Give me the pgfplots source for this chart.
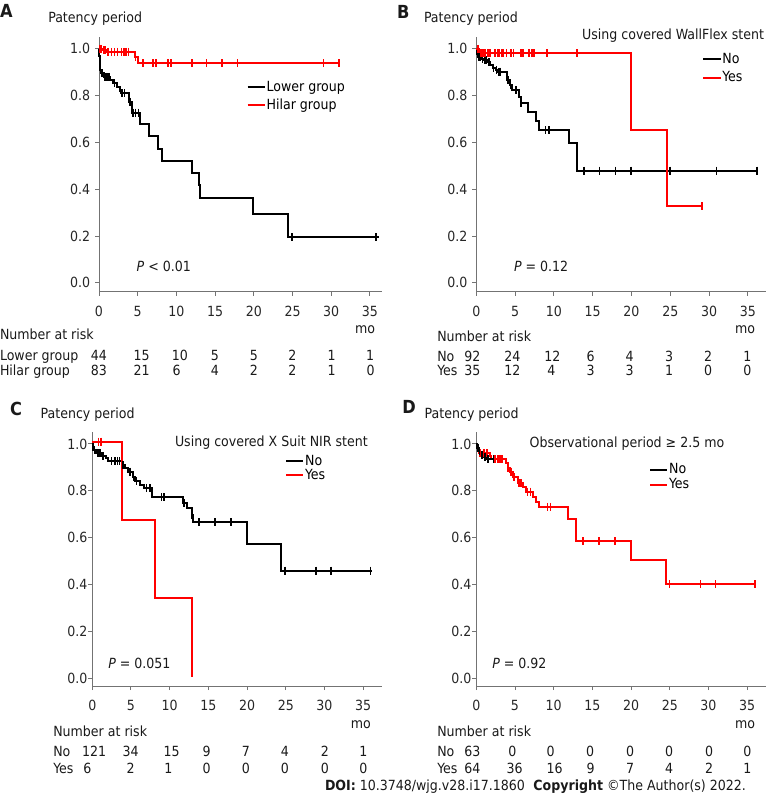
\documentclass[border=0pt]{standalone}
\usepackage{fontspec}
\setmainfont{DejaVu Sans Condensed}[BoldFont={DejaVu Sans Condensed Bold}, ItalicFont={DejaVu Sans Condensed Oblique}]
\usepackage{pgfplots}
\pgfplotsset{compat=1.18}
\newcommand\fs{\fontsize{10.5}{12}\selectfont}
\newcommand\lfs{\fontsize{13.5}{15}\selectfont\bfseries}
\pgfplotsset{
 km/.style={
   scale only axis, axis lines=left,
   axis line style={-, draw=black!55, line width=0.75pt},
   xmin=0, ymax=1.05,
   xtick={0,5,...,35}, ytick={0,0.2,0.4,0.6,0.8,1.0},
   tick align=outside, major tick length=3pt,
   tick style={draw=black!55, line width=0.75pt},
   /pgf/number format/assume math mode=true,
   tick label style={font=\fs, text=black!85},
   xticklabel style={yshift=-4pt},
   yticklabel style={/pgf/number format/fixed, /pgf/number format/fixed zerofill, /pgf/number format/precision=1},
   anchor=south west, clip=false,
   legend cell align=left,
   legend image code/.code={\draw[##1, line width=1.5pt] (0pt,0pt) -- (13pt,0pt);},
   legend style={draw=none, fill=none, anchor=north west, font=\fs, inner sep=0pt, outer sep=0pt, nodes={inner sep=0.5pt}, /tikz/every even column/.append style={column sep=3.5pt}},
 },
 kmstep/.style={const plot, line width=1.5pt, no marks, forget plot},
 cens/.style={only marks, mark=|, mark size=3pt, mark options={line width=1.2pt}, forget plot},
}
\begin{document}
\fs
\begin{tikzpicture}
\path[use as bounding box] (0,0) rectangle (575.25pt,-599.25pt);
% ---------------- A
\begin{axis}[km, at={(74.25pt,-218.775pt)}, width=212.5pt, height=190.95pt, xmax=36.6, ymin=-0.038,
  legend style={at={(0.521,0.829)}, row sep=3pt}]
\addlegendimage{black}\addlegendentry{Lower group}
\addlegendimage{red}\addlegendentry{Hilar group}
\addplot[kmstep, black] coordinates {(0,1.0)(0.05,0.97)(0.1,0.94)(0.15,0.91)(0.3,0.895)(0.6,0.88)(1.4,0.866)(1.85,0.852)(2.3,0.838)(2.7,0.82)(2.9,0.81)(3.9,0.773)(4.2,0.727)(5.3,0.678)(6.4,0.627)(7.6,0.571)(8.2,0.52)(12.0,0.47)(12.9,0.417)(13.05,0.363)(19.95,0.292)(24.35,0.194)(36.2,0.194)};
\addplot[cens, black] coordinates {(0.35,0.895)(0.7,0.88)(0.9,0.88)(1.1,0.88)(1.3,0.88)(2.0,0.852)(3.0,0.81)(3.3,0.81)(4.0,0.773)(4.4,0.727)(4.7,0.727)(5.1,0.727)(13.0,0.417)(19.95,0.328)(24.9,0.194)(35.8,0.194)};
\addplot[kmstep, red] coordinates {(0,1.0)(0.5,0.994)(0.9,0.987)(4.7,0.966)(5.0,0.938)(31.0,0.938)};
\addplot[cens, red] coordinates {(0.15,1.0)(0.3,1.0)(0.6,0.994)(0.8,0.994)(1.2,0.987)(1.6,0.987)(2.0,0.987)(2.4,0.987)(2.9,0.987)(3.2,0.987)(3.5,0.987)(3.8,0.987)(4.7,0.966)(5.7,0.938)(7.0,0.938)(7.4,0.938)(8.9,0.938)(9.3,0.938)(12.0,0.938)(13.9,0.938)(15.9,0.938)(17.9,0.938)(29.0,0.938)(31.0,0.938)};
\end{axis}
% ---------------- B
\begin{axis}[km, at={(357.225pt,-218.775pt)}, width=217.05pt, height=190.95pt, xmax=37.3, ymin=-0.038,
  legend style={at={(0.781,0.939)}, row sep=3.5pt}]
\addlegendimage{black}\addlegendentry{No}
\addlegendimage{red}\addlegendentry{Yes}
\addplot[kmstep, black] coordinates {(0,1.0)(0.1,0.978)(0.2,0.966)(0.6,0.958)(1.0,0.95)(1.4,0.942)(1.8,0.93)(2.1,0.92)(2.5,0.91)(2.7,0.902)(4.0,0.866)(4.3,0.845)(4.6,0.823)(5.5,0.795)(5.7,0.769)(6.6,0.731)(7.65,0.692)(8.1,0.652)(12.0,0.598)(12.95,0.479)(36.2,0.479)};
\addplot[cens, black] coordinates {(0.3,0.966)(0.5,0.966)(0.8,0.958)(1.1,0.95)(1.3,0.95)(1.6,0.942)(2.2,0.92)(2.6,0.91)(2.9,0.902)(3.1,0.902)(4.1,0.866)(4.4,0.845)(5.1,0.823)(5.75,0.769)(8.9,0.652)(9.35,0.652)(12.0,0.627)(13.0,0.543)(13.9,0.479)(15.9,0.479)(17.95,0.479)(19.95,0.479)(24.95,0.479)(30.95,0.479)(36.2,0.479)};
\addplot[kmstep, red] coordinates {(0,1.0)(0.4,0.98)(19.9,0.655)(24.6,0.328)(29.1,0.328)};
\addplot[cens, red] coordinates {(0.2,1.0)(0.6,0.98)(0.9,0.98)(1.1,0.98)(1.5,0.98)(1.8,0.98)(2.4,0.98)(2.8,0.98)(3.0,0.98)(3.3,0.98)(3.5,0.98)(3.9,0.98)(4.5,0.98)(4.8,0.98)(5.7,0.98)(5.9,0.98)(6.1,0.98)(6.8,0.98)(7.2,0.98)(7.4,0.98)(9.1,0.98)(13.0,0.98)(29.1,0.328)};
\end{axis}
% ---------------- C
\begin{axis}[km, at={(69.225pt,-514.5pt)}, width=217.1pt, height=190.3pt, xmax=37.4, ymin=-0.033,
  yticklabel style={xshift=3pt},
  legend style={at={(0.666,0.912)}, row sep=0pt}]
\addlegendimage{black}\addlegendentry{No}
\addlegendimage{red}\addlegendentry{Yes}
\addplot[kmstep, black] coordinates {(0,1.0)(0.05,0.974)(0.5,0.96)(1.2,0.949)(1.77,0.939)(2.07,0.927)(3.79,0.909)(4.22,0.896)(4.65,0.882)(5.21,0.86)(5.51,0.842)(6.16,0.825)(6.68,0.811)(7.67,0.772)(11.76,0.747)(12.19,0.725)(12.83,0.697)(12.96,0.667)(19.94,0.573)(24.33,0.459)(36.09,0.459)};
\addplot[cens, black] coordinates {(0.3,0.974)(0.7,0.96)(1.0,0.96)(1.4,0.949)(2.5,0.927)(2.93,0.927)(3.23,0.927)(3.49,0.927)(4.0,0.909)(4.87,0.882)(5.3,0.86)(5.73,0.842)(7.02,0.811)(7.45,0.811)(8.96,0.772)(9.26,0.772)(11.84,0.747)(12.83,0.697)(13.82,0.667)(15.85,0.667)(17.92,0.667)(19.9,0.622)(24.89,0.459)(28.9,0.459)(30.84,0.459)(35.96,0.459)};
\addplot[kmstep, red] coordinates {(0,1.01)(3.88,0.676)(8.1,0.341)(12.92,0.007)};
\addplot[cens, red] coordinates {(0.78,1.01)(1.12,1.01)};
\end{axis}
% ---------------- D
\begin{axis}[km, at={(357.225pt,-514.5pt)}, width=217.1pt, height=190.3pt, xmax=37.4, ymin=-0.033,
  yticklabel style={xshift=3pt},
  legend style={at={(0.597,0.879)}, row sep=1pt}]
\addlegendimage{black}\addlegendentry{No}
\addlegendimage{red}\addlegendentry{Yes}
\addplot[kmstep, red] coordinates {(0,1.0)(0.1,0.985)(0.3,0.96)(1.8,0.95)(1.95,0.935)(3.86,0.918)(4.07,0.896)(4.3,0.882)(4.7,0.86)(5.33,0.832)(5.98,0.818)(6.4,0.797)(7.3,0.775)(7.68,0.754)(8.1,0.732)(11.85,0.68)(12.92,0.585)(19.94,0.504)(24.46,0.401)(36.09,0.401)};
\addplot[cens, red] coordinates {(0.5,0.96)(1.0,0.96)(1.4,0.96)(2.4,0.935)(2.8,0.935)(3.0,0.935)(3.2,0.935)(3.4,0.935)(4.07,0.896)(4.5,0.882)(4.9,0.86)(5.5,0.832)(5.8,0.832)(6.6,0.797)(7.0,0.797)(9.2,0.732)(9.6,0.732)(11.85,0.704)(12.85,0.637)(13.82,0.585)(15.85,0.585)(17.92,0.585)(19.94,0.543)(24.98,0.401)(28.98,0.401)(30.92,0.401)(36.0,0.401)};
\addplot[kmstep, black] coordinates {(0,1.0)(0.1,0.985)(0.25,0.97)(0.5,0.955)(0.9,0.945)(1.3,0.935)(2.3,0.935)};
\addplot[cens, black] coordinates {(0.2,0.985)(0.4,0.97)(0.7,0.955)(1.1,0.945)(1.5,0.935)(2.2,0.935)};
\end{axis}
% ---------------- text (pixel coordinates)
\begin{scope}[x=0.75pt, y=-0.75pt, every node/.style={inner sep=0pt, outer sep=0pt, font=\fs, text=black!90}]
% A
\node[anchor=base west, font=\lfs] at (0,18) {A};
\node[anchor=base west] at (48.3,22.3) {Patency period};
\node[anchor=base west] at (136.7,271) {\textit{P} < 0.01};
\node[anchor=base west] at (0,339) {Number at risk};
\node[anchor=base] at (365,333.3) {mo};
\node[anchor=base west] at (0,360) {Lower group};
\node[anchor=base west] at (0,375.7) {Hilar group};
\foreach \x/\t in {99/44,141.7/15,180/10,215/5,254/5,292.3/2,331.7/1,370/1} \node[anchor=base] at (\x,360) {\t};
\foreach \x/\t in {99/83,141.7/21,176.7/6,215/4,254/2,292.3/2,331.7/1,370.7/0} \node[anchor=base] at (\x,375.7) {\t};
% B
\node[anchor=base west, font=\lfs] at (397,18.3) {B};
\node[anchor=base west] at (424,22.3) {Patency period};
\node[anchor=base east] at (764,39.5) {Using covered WallFlex stent};
\node[anchor=base west] at (514,271) {\textit{P} = 0.12};
\node[anchor=base west] at (437.3,341) {Number at risk};
\node[anchor=base] at (745,333.3) {mo};
\node[anchor=base west] at (437.3,361) {No};
\node[anchor=base west] at (437.3,375.7) {Yes};
\foreach \x/\t in {472.3/92,512.3/24,552.3/12,590.7/6,629.7/4,669/3,708/2,747.3/1} \node[anchor=base] at (\x,361) {\t};
\foreach \x/\t in {472.3/35,512.3/12,551.3/4,590.7/3,629.7/3,669/1,708/0,747.3/0} \node[anchor=base] at (\x,375.7) {\t};
% C
\node[anchor=base west, font=\lfs] at (10,415) {C};
\node[anchor=base west] at (40.7,418.7) {Patency period};
\node[anchor=base west] at (175,446) {Using covered X Suit NIR stent};
\node[anchor=base west] at (108.3,668.7) {\textit{P} = 0.051};
\node[anchor=base west] at (53.3,736.7) {Number at risk};
\node[anchor=base] at (360.8,728.3) {mo};
\node[anchor=base west] at (53.3,756.7) {No};
\node[anchor=base west] at (53.3,773.3) {Yes};
\foreach \x/\t in {94.2/121,130.7/34,171.7/15,206.7/9,246/7,285/4,325/2,363.3/1} \node[anchor=base] at (\x,756.7) {\t};
\foreach \x/\t in {87.3/6,130.7/2,168.3/1,206.7/0,246/0,285/0,325/0,363.3/0} \node[anchor=base] at (\x,773.3) {\t};
% D
\node[anchor=base west, font=\lfs] at (402.3,413.3) {D};
\node[anchor=base west] at (424.7,418.7) {Patency period};
\node[anchor=base west] at (529.7,447.7) {Observational period ≥ 2.5 mo};
\node[anchor=base west] at (492.3,668.7) {\textit{P} = 0.92};
\node[anchor=base west] at (437.3,736.7) {Number at risk};
\node[anchor=base] at (745,728.3) {mo};
\node[anchor=base west] at (437.3,756.7) {No};
\node[anchor=base west] at (437.3,773.3) {Yes};
\foreach \x/\t in {472.3/63,512.3/0,550.7/0,590/0,630/0,669/0,709/0,747.3/0} \node[anchor=base] at (\x,756.7) {\t};
\foreach \x/\t in {472.3/64,514.7/36,554.7/16,590.7/9,630/7,669/4,709/2,747.3/1} \node[anchor=base] at (\x,773.3) {\t};
% footer
\node[anchor=base west] at (325,790) {\textbf{DOI:} 10.3748/wjg.v28.i17.1860\hspace{0.6em}\textbf{Copyright} ©The Author(s) 2022.};
\end{scope}
\end{tikzpicture}
\end{document}
